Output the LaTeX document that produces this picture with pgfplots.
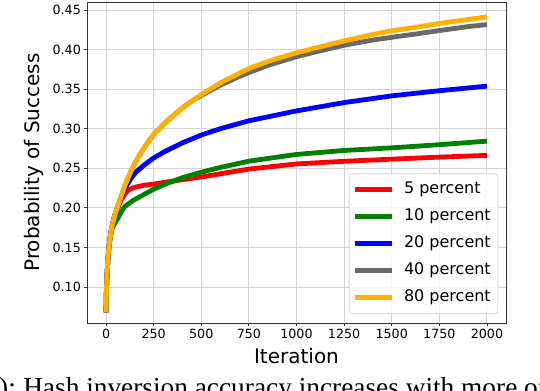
\documentclass[border=0pt]{standalone}
\usepackage{fontspec}
\setmainfont{DejaVu Sans}
\newfontfamily\capfont{Liberation Serif}
\usepackage{pgfplots}
\pgfplotsset{compat=1.18}

\definecolor{cred}{HTML}{FF0000}
\definecolor{cgreen}{HTML}{008000}
\definecolor{cblue}{HTML}{0000FF}
\definecolor{cgray}{HTML}{696969}
\definecolor{corange}{HTML}{FFB000}

\begin{document}
\begin{tikzpicture}
% page = 540x390 px, 1 px = 0.75pt, axis box lower-left at (0,0)
\clip (-65.25pt,-50.25pt) rectangle (339.75pt,242.25pt);
\begin{axis}[
    at={(0,0)}, anchor=south west,
    scale only axis,
    width=314.25pt, height=240.75pt,
    xmin=-100, xmax=2100,
    ymin=0.0545, ymax=0.4601,
    xtick={0,250,500,750,1000,1250,1500,1750,2000},
    ytick={0.10,0.15,0.20,0.25,0.30,0.35,0.40,0.45},
    scaled ticks=false,
    xticklabel style={/pgf/number format/1000 sep={}, yshift=1.2pt},
    yticklabel style={/pgf/number format/.cd, fixed, fixed zerofill, precision=2, /tikz/xshift=1.5pt},
    /pgf/number format/assume math mode=true,
    tick label style={font=\fontsize{9.5}{11}\selectfont},
    tick pos=left,
    tick align=outside,
    major tick length=2.6pt,
    tick style={black!80, line width=0.6pt},
    axis line style={black!80, line width=0.7pt},
    grid=major,
    major grid style={black!17, line width=0.7pt},
    xlabel={Iteration},
    ylabel={Probability of Success},
    label style={font=\fontsize{15}{18}\selectfont},
    legend style={
        at={(0.981,0.028)}, anchor=south east,
        draw=black!20, rounded corners=2.5pt,
        fill=white, fill opacity=0.8, text opacity=1,
        font=\fontsize{12}{14}\selectfont,
        inner xsep=5.25pt, inner ysep=6.3pt,
        row sep=8.85pt, column sep=7.5pt,
        nodes={inner sep=0pt, text height=8.8pt, text depth=2.6pt},
    },
    legend cell align=left,
    legend image code/.code={
        \draw[#1, overlay] (-3pt,0pt) -- (24.75pt,0pt);
        \path (0pt,0pt) -- (24.75pt,0pt);
    },
    every axis plot/.append style={line width=3.6pt, line join=round},
]
% 5 percent
\addplot[cred] coordinates {
(0,0.068) (2,0.095) (5,0.115) (10,0.135) (15,0.150) (20,0.160) (30,0.175)
(40,0.186) (60,0.199) (80,0.210) (100,0.218) (120,0.223) (150,0.226)
(200,0.2285) (250,0.230) (300,0.232) (400,0.2355) (500,0.239) (600,0.243)
(750,0.249) (1000,0.2555) (1250,0.2588) (1500,0.2615) (1750,0.2641) (2000,0.2663)
};
\addlegendentry{5 percent}
% 10 percent
\addplot[cgreen] coordinates {
(0,0.068) (2,0.095) (5,0.115) (10,0.135) (15,0.150) (20,0.160) (30,0.172)
(40,0.178) (60,0.186) (80,0.195) (100,0.202) (140,0.209) (200,0.217)
(250,0.2235) (300,0.229) (400,0.238) (500,0.245) (600,0.251) (750,0.259)
(1000,0.2675) (1250,0.2725) (1500,0.2758) (1750,0.2798) (2000,0.2843)
};
\addlegendentry{10 percent}
% 20 percent
\addplot[cblue] coordinates {
(0,0.068) (2,0.095) (5,0.115) (10,0.135) (15,0.150) (20,0.160) (30,0.175)
(45,0.190) (60,0.200) (80,0.213) (100,0.225) (130,0.237) (160,0.246)
(200,0.254) (250,0.263) (300,0.270) (400,0.282) (500,0.292) (600,0.300)
(750,0.310) (1000,0.3225) (1250,0.333) (1500,0.3415) (1750,0.348) (2000,0.3538)
};
\addlegendentry{20 percent}
% 40 percent
\addplot[cgray] coordinates {
(0,0.068) (2,0.095) (5,0.115) (10,0.135) (15,0.150) (20,0.160) (30,0.175)
(45,0.190) (60,0.201) (80,0.215) (100,0.229) (130,0.246) (160,0.260)
(200,0.276) (250,0.293) (300,0.305) (350,0.316) (400,0.326) (450,0.335)
(500,0.342) (600,0.355) (700,0.366) (750,0.371) (850,0.380) (1000,0.391)
(1100,0.397) (1250,0.4055) (1400,0.412) (1500,0.4155) (1650,0.4205)
(1750,0.424) (1900,0.429) (2000,0.4315)
};
\addlegendentry{40 percent}
% 80 percent
\addplot[corange] coordinates {
(0,0.068) (2,0.095) (5,0.115) (10,0.135) (15,0.150) (20,0.160) (30,0.175)
(45,0.190) (60,0.201) (80,0.215) (100,0.229) (130,0.246) (160,0.260)
(200,0.276) (250,0.293) (300,0.305) (350,0.316) (400,0.326) (450,0.335)
(500,0.343) (600,0.358) (700,0.370) (750,0.376) (850,0.385) (1000,0.396)
(1100,0.402) (1250,0.411) (1400,0.419) (1500,0.4237) (1650,0.429)
(1750,0.433) (1900,0.438) (2000,0.4413)
};
\addlegendentry{80 percent}
\end{axis}
% caption line, cut by the page edges
\node[anchor=base west, inner sep=0pt, font=\capfont\fontsize{20.5}{24}\selectfont]
  (cap) at (-48pt,-54.75pt) {Hash inversion accuracy increases with more of the hash};
\node[anchor=base east, inner sep=0pt, font=\capfont\fontsize{20.5}{24}\selectfont]
  at ([xshift=-5.1pt]cap.base west) {(b):};
\end{tikzpicture}
\end{document}
